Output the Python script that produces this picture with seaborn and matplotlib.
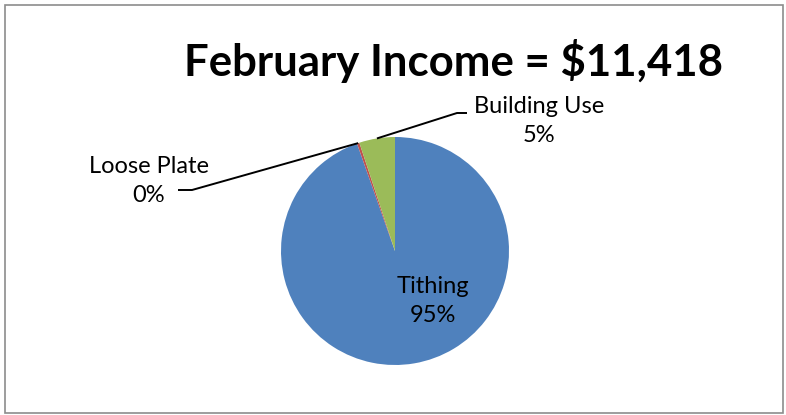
import numpy as np
import matplotlib
matplotlib.use("Agg")
import matplotlib.pyplot as plt
import seaborn as sns
from matplotlib.patches import Rectangle

# Data
categories = ["Tithing", "Loose Plate", "Building Use"]
values = [10800, 40, 578]
title = "February Income = $11,418"
colors = ["#4F81BD", "#C0504D", "#9BBB59"]

sns.set_theme(style="white")
plt.rcParams['font.family'] = ['Lato', 'DejaVu Sans']
palette = sns.color_palette(colors)

W, H = 786, 415
fig = plt.figure(figsize=(W / 100, H / 100), dpi=100)
ax = fig.add_axes([0, 0, 1, 1])

cx, cy, r = 395, 164, 114
wedges, _ = ax.pie(values, colors=palette, startangle=90, counterclock=False,
                   center=(cx, cy), radius=r, frame=False,
                   wedgeprops=dict(linewidth=0))
ax.set_xlim(0, W)
ax.set_ylim(0, H)
ax.set_aspect("equal")
ax.axis("off")

total = sum(values)
pcts = [f"{v / total * 100:.0f}%" for v in values]

def mid_point(w, frac=1.0):
    a = np.deg2rad((w.theta1 + w.theta2) / 2)
    return cx + frac * r * np.cos(a), cy + frac * r * np.sin(a)

fs = 17
ls = 1.5
# Tithing label (inside)
ax.text(433, 415 - 301, f"{categories[0]}\n{pcts[0]}", ha="center", va="center",
        fontsize=fs, color="black", linespacing=ls)
# Building Use label
ax.text(539, 415 - 121, f"{categories[2]}\n{pcts[2]}", ha="center", va="center",
        fontsize=fs, color="black", linespacing=ls)
# Loose Plate label
ax.text(149, 415 - 181, f"{categories[1]}\n{pcts[1]}", ha="center", va="center",
        fontsize=fs, color="black", linespacing=ls)

# Leader lines
x0, y0 = mid_point(wedges[2])
ax.plot([x0, 457, 467], [y0, 415 - 113, 415 - 113], color="black", lw=1.4,
        solid_capstyle="butt")
x1, y1 = mid_point(wedges[1])
ax.plot([x1, 192, 178], [y1, 415 - 190, 415 - 190], color="black", lw=1.4,
        solid_capstyle="butt")

# Title
ax.text(453, 415 - 61, title, ha="center", va="center", fontsize=31.5,
        fontweight="bold", color="black")

# Chart border
fig.patches.append(Rectangle((5 / W, 2 / H), 778 / W, 408 / H, transform=fig.transFigure,
                             fill=False, edgecolor="#8c8c8c", lw=1.2))

fig.savefig("out.png", dpi=100)
